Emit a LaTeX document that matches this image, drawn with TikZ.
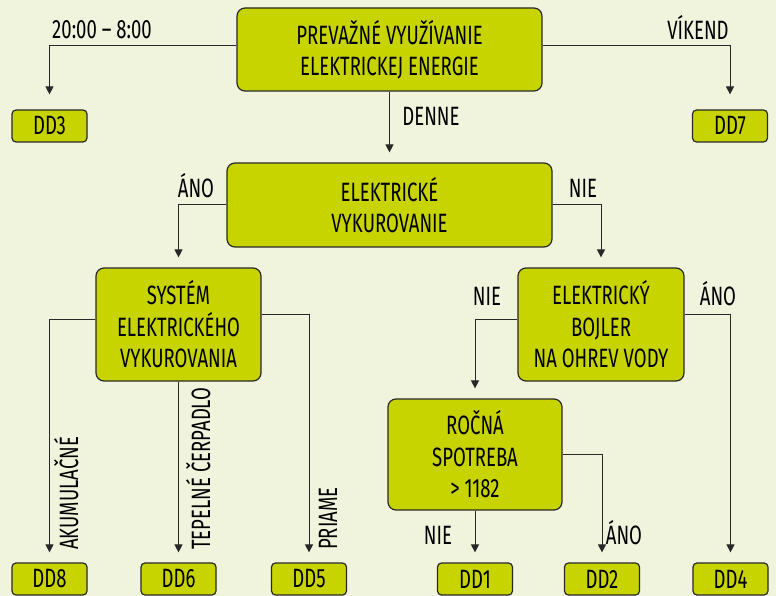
\documentclass[tikz,border=0pt]{standalone}
\usepackage{fontspec}
\setmainfont[FakeStretch=0.70]{Fira Sans}
\usetikzlibrary{arrows.meta}

\definecolor{bgcream}{RGB}{240,244,220}
\definecolor{boxgreen}{RGB}{200,212,0}
\definecolor{linegray}{RGB}{40,40,40}

\tikzset{
    txt/.style={font=\fontsize{26.5}{31.5}\selectfont},
    box/.style={txt, draw=linegray, line width=1.2pt, fill=boxgreen,
                rounded corners=8pt, align=center, inner sep=0pt},
    ddbox/.style={box, rounded corners=4pt, minimum width=75pt, minimum height=32pt},
    link/.style={draw=linegray, line width=1pt,
                 -{Triangle[length=8pt,width=8pt]}, shorten >=10pt},
    lbl/.style={txt, inner sep=0pt, anchor=base}
}

\begin{document}
\begin{tikzpicture}[x=1pt, y=-1pt]
        \fill [bgcream] (0, 0) rectangle (776, 596);

        \node [box, minimum width=305pt, minimum height=83pt] (top) at (389.5, 49.5)
            {PREVAŽNÉ VYUŽÍVANIE\\ELEKTRICKEJ ENERGIE};
        \node [ddbox] (dd3) at (49.5, 126) {DD3};
        \node [ddbox] (dd7) at (730, 126) {DD7};

        \node [box, minimum width=325pt, minimum height=84pt] (mid) at (389.5, 205)
            {ELEKTRICKÉ\\VYKUROVANIE};

        \node [box, minimum width=165pt, minimum height=113pt] (sys) at (178.5, 324.5)
            {SYSTÉM\\ELEKTRICKÉHO\\VYKUROVANIA};
        \node [box, minimum width=166pt, minimum height=113pt] (boj) at (601, 324.5)
            {ELEKTRICKÝ\\BOJLER\\NA OHREV VODY};
        \node [box, minimum width=174pt, minimum height=111pt] (roc) at (475, 454.5)
            {ROČNÁ\\SPOTREBA\\> 1182};

        \node [ddbox] (dd8) at (49.5, 579) {DD8};
        \node [ddbox] (dd6) at (178.5, 579) {DD6};
        \node [ddbox] (dd5) at (309, 579) {DD5};
        \node [ddbox] (dd1) at (475, 579) {DD1};
        \node [ddbox] (dd2) at (602, 579) {DD2};
        \node [ddbox] (dd4) at (730.5, 579) {DD4};

        \draw [link, shorten >=15pt] ([yshift=3.5pt]top.west) -| (dd3);
        \draw [link, shorten >=15pt] ([yshift=3.5pt]top.east) -| (dd7);
        \draw [link] (top) -- (mid);
        \draw [link] (mid.west) -| (sys);
        \draw [link] (mid.east) -| (boj);
        \draw [link] ([yshift=5.5pt]sys.west) -| (dd8);
        \draw [link] (sys) -- (dd6);
        \draw [link] ([yshift=10.5pt]sys.east) -| (dd5);
        \draw [link] ([yshift=5.5pt]boj.west) -| (roc);
        \draw [link] ([yshift=10.5pt]boj.east) -| (dd4);
        \draw [link] (roc) -- (dd1);
        \draw [link] (roc.east) -| (dd2);

        \node [lbl] (l2000) at (102, 39) {20:00 -- 8:00};
        \node [lbl] (lvik) at (698, 40) {VÍKEND};
        \node [lbl] (lden) at (431, 126) {DENNE};
        \node [lbl] (lano1) at (196, 198) {ÁNO};
        \node [lbl] (lnie1) at (583, 198) {NIE};
        \node [lbl] (lnie2) at (487, 305) {NIE};
        \node [lbl] (lano2) at (718, 305) {ÁNO};
        \node [lbl] (lnie3) at (438, 544) {NIE};
        \node [lbl] (lano3) at (624, 544) {ÁNO};
        \node [lbl, rotate=90, anchor=base west] (lakum) at (78, 550) {AKUMULAČNÉ};
        \node [lbl, rotate=90, anchor=base west] (ltep) at (210, 550) {TEPELNÉ ČERPADLO};
        \node [lbl, rotate=90, anchor=base west] (lpri) at (337, 550) {PRIAME};
    \end{tikzpicture}
\end{document}
